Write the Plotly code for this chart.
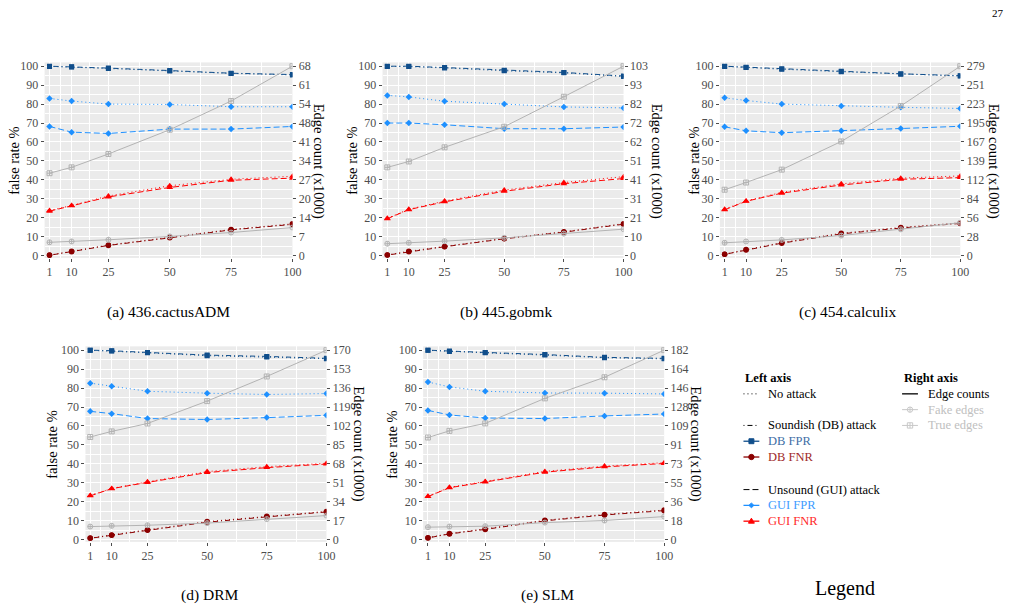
import plotly.graph_objects as go

W, H = 1034, 615

# ---------------- data ----------------
x_levels = [1, 10, 25, 50, 75, 100]
captions = ["(a) 436.cactusADM", "(b) 445.gobmk", "(c) 454.calculix", "(d) DRM", "(e) SLM"]
left_ticks = [0, 10, 20, 30, 40, 50, 60, 70, 80, 90, 100]

# left axis: false rate %  (one row per panel a..e)
db_fpr_attack = [
    [100.0, 99.7, 99.0, 97.7, 96.3, 95.6],
    [100.0, 100.0, 99.3, 97.9, 96.7, 94.8],
    [100.0, 99.5, 98.6, 97.4, 96.0, 95.0],
    [100.0, 99.7, 98.8, 97.4, 96.7, 95.7],
    [100.0, 99.5, 98.8, 97.7, 96.2, 95.7],
]
db_fpr_no_attack = [
    [99.9, 99.6, 98.8, 97.5, 96.2, 95.4],
    [99.9, 99.8, 99.1, 97.6, 96.5, 94.6],
    [99.9, 99.3, 98.4, 97.1, 95.8, 94.8],
    [99.9, 99.5, 98.6, 97.1, 96.4, 95.5],
    [99.9, 99.3, 98.6, 97.4, 96.0, 95.4],
]
gui_fpr_no_attack = [
    [83.0, 81.6, 80.0, 79.8, 78.6, 78.6],
    [84.6, 83.8, 81.5, 80.1, 78.5, 78.0],
    [83.3, 81.9, 80.0, 79.0, 78.3, 77.7],
    [82.6, 80.9, 78.3, 77.3, 76.6, 77.1],
    [83.2, 80.6, 78.3, 77.4, 77.3, 76.9],
]
gui_fpr_attack = [
    [68.2, 65.2, 64.5, 66.8, 66.8, 68.2],
    [70.0, 70.0, 69.1, 67.0, 67.0, 67.9],
    [68.0, 65.9, 64.9, 65.9, 67.1, 68.3],
    [67.7, 66.5, 63.9, 63.4, 64.4, 65.6],
    [68.2, 65.8, 64.2, 63.9, 65.3, 66.3],
]
gui_fnr_attack = [
    [23.5, 26.3, 31.0, 36.0, 39.8, 40.9],
    [19.5, 24.3, 28.4, 34.0, 38.0, 40.7],
    [24.2, 28.7, 33.0, 37.3, 40.3, 41.2],
    [23.1, 26.9, 30.2, 35.4, 38.0, 39.9],
    [22.7, 27.4, 30.4, 35.6, 38.4, 40.2],
]
gui_fnr_no_attack = [
    [23.8, 26.5, 31.5, 36.9, 40.3, 41.9],
    [19.7, 24.5, 28.8, 34.6, 38.6, 41.7],
    [24.5, 28.9, 33.4, 37.9, 40.9, 42.1],
    [23.3, 27.0, 30.5, 35.9, 38.5, 40.3],
    [22.9, 27.6, 30.7, 36.0, 38.8, 40.6],
]
db_fnr_attack = [
    [0.2, 2.1, 5.4, 9.4, 13.6, 16.5],
    [0.3, 2.1, 4.7, 8.9, 12.4, 16.6],
    [0.7, 3.0, 6.6, 11.5, 14.6, 17.0],
    [0.7, 2.3, 5.0, 9.2, 12.0, 14.6],
    [0.9, 3.0, 5.4, 9.9, 13.0, 15.3],
]
db_fnr_no_attack = [
    [0.3, 2.3, 5.6, 9.7, 13.8, 16.8],
    [0.4, 2.3, 4.9, 9.1, 12.6, 16.9],
    [0.8, 3.2, 6.9, 11.8, 14.9, 17.3],
    [0.8, 2.5, 5.2, 9.5, 12.3, 14.9],
    [1.0, 3.2, 5.7, 10.2, 13.3, 15.6],
]

# right axis: edge counts (x1000)
fake_edges = [
    [4.8, 5.1, 5.7, 6.9, 8.3, 10.1],
    [6.5, 7.0, 7.9, 9.7, 12.0, 14.4],
    [19.0, 20.9, 23.2, 29.6, 38.8, 48.5],
    [11.7, 12.4, 12.9, 14.8, 18.4, 21.6],
    [12.0, 12.6, 12.9, 16.4, 18.4, 22.2],
]
true_edges = [
    [29.6, 31.7, 36.5, 45.2, 55.5, 68.0],
    [48.0, 51.2, 58.9, 70.1, 86.4, 103.0],
    [97.1, 107.7, 126.7, 168.2, 220.4, 279.0],
    [92.1, 97.1, 104.2, 124.3, 146.4, 170.0],
    [98.3, 104.7, 111.9, 136.0, 156.3, 182.4],
]
right_tick_labels = [
    ["0", "7", "14", "20", "27", "34", "41", "48", "54", "61", "68"],
    ["0", "10", "21", "31", "41", "51", "62", "72", "82", "93", "103"],
    ["0", "28", "56", "84", "112", "139", "167", "195", "223", "251", "279"],
    ["0", "17", "34", "51", "68", "85", "102", "119", "136", "153", "170"],
    ["0", "18", "36", "55", "73", "91", "109", "128", "146", "164", "182"],
]

# ---------------- styling ----------------
FONT = "Liberation Serif"
TICK_C = "#4d4d4d"
GRAY = "#b3b3b3"
C_DB_FPR = "#104E8B"
C_DB_FNR = "#8B0000"
C_GUI_FPR = "#1E90FF"
C_GUI_FNR = "#FF0000"
DOT = "1px,3px"
DASH = "6px,3px"
DASHDOT = "1px,3px,5px,3px"

# panel pixel boxes: left, right, top, bottom
panel_px = [
    (45.0, 295.0, 60.2, 258.3),
    (385.9, 629.0, 60.2, 258.3),
    (726.2, 968.7, 60.2, 258.3),
    (86.2, 329.3, 347.9, 546.0),
    (426.9, 670.0, 347.9, 546.0),
]
left_title_pos = [(14, 160), (355, 160), (700, 160), (53, 448), (396, 448)]
right_title_pos = [(321, 160), (662, 160), (1002, 160), (362, 447), (702, 447)]
caption_pos = [(170, 313), (510, 313), (855, 313), (211, 600), (552, 600)]


def fx(p):
    return p / W


def fy(p):
    return 1 - p / H


fig = go.Figure()
layout = {}
annotations = []
shapes = []

for i in range(5):
    xid = "x" if i == 0 else f"x{i+1}"
    yl_n = 2 * i + 1
    yr_n = 2 * i + 2
    ylid = "y" if yl_n == 1 else f"y{yl_n}"
    yrid = f"y{yr_n}"
    l, r, t, b = panel_px[i]
    rmax = true_edges[i][-1]

    layout["xaxis" if i == 0 else f"xaxis{i+1}"] = dict(
        domain=[fx(l), fx(r)], range=[-1, 100], anchor=ylid,
        tickvals=x_levels, ticktext=[str(v) for v in x_levels],
        ticks="outside", ticklen=3, tickcolor=TICK_C, tickwidth=1,
        tickfont=dict(family=FONT, size=12, color=TICK_C),
        showgrid=True, gridcolor="white", gridwidth=1.1,
        minor=dict(tickvals=[5.5, 17.5, 37.5, 62.5, 87.5], showgrid=True,
                   gridcolor="white", gridwidth=0.5, ticks=""),
        zeroline=False, showline=False, fixedrange=True,
    )
    layout["yaxis" if yl_n == 1 else f"yaxis{yl_n}"] = dict(
        domain=[fy(b), fy(t)], range=[-1.2, 102], anchor=xid,
        tickvals=left_ticks, ticks="outside", ticklen=3, tickcolor=TICK_C,
        tickfont=dict(family=FONT, size=12, color=TICK_C),
        showgrid=True, gridcolor="white", gridwidth=1.1,
        minor=dict(tickvals=[5, 15, 25, 35, 45, 55, 65, 75, 85, 95], showgrid=True,
                   gridcolor="white", gridwidth=0.5, ticks=""),
        zeroline=False, showline=False,
    )
    layout[f"yaxis{yr_n}"] = dict(
        overlaying=ylid, side="right", anchor=xid,
        range=[-1.2 * rmax / 100, 102 * rmax / 100],
        tickvals=[rmax * k / 10 for k in range(11)], ticktext=right_tick_labels[i],
        ticks="outside", ticklen=3, tickcolor=TICK_C,
        tickfont=dict(family=FONT, size=12, color=TICK_C),
        showgrid=False, zeroline=False, showline=False,
    )

    # edge counts (right axis)
    fig.add_trace(go.Scatter(x=x_levels, y=fake_edges[i], xaxis=xid, yaxis=yrid, mode="lines+markers",
                             line=dict(color=GRAY, width=1),
                             marker=dict(symbol="circle-cross-open", size=5, color=GRAY, line=dict(width=1)),
                             showlegend=False))
    fig.add_trace(go.Scatter(x=x_levels, y=true_edges[i], xaxis=xid, yaxis=yrid, mode="lines+markers",
                             line=dict(color=GRAY, width=1),
                             marker=dict(symbol="square-cross-open", size=5, color=GRAY, line=dict(width=1)),
                             showlegend=False))

    series = [
        (db_fpr_no_attack[i], C_DB_FPR, DOT, "square", 5),
        (db_fpr_attack[i], C_DB_FPR, DASHDOT, "square", 5),
        (db_fnr_no_attack[i], C_DB_FNR, DOT, "circle", 5.5),
        (db_fnr_attack[i], C_DB_FNR, DASHDOT, "circle", 5.5),
        (gui_fpr_no_attack[i], C_GUI_FPR, DOT, "diamond", 5),
        (gui_fpr_attack[i], C_GUI_FPR, DASH, "diamond", 5),
        (gui_fnr_no_attack[i], C_GUI_FNR, DOT, "triangle-up", 6),
        (gui_fnr_attack[i], C_GUI_FNR, DASH, "triangle-up", 6),
    ]
    for vals, col, dash, sym, sz in series:
        fig.add_trace(go.Scatter(x=x_levels, y=vals, xaxis=xid, yaxis=ylid, mode="lines+markers",
                                 line=dict(color=col, width=1, dash=dash),
                                 marker=dict(symbol=sym, size=sz, color=col),
                                 showlegend=False))

    lx, ly = left_title_pos[i]
    annotations.append(dict(text="false rate %", x=fx(lx), y=fy(ly), xref="paper", yref="paper",
                            showarrow=False, textangle=-90, xanchor="center", yanchor="middle",
                            font=dict(family=FONT, size=14.5, color="black")))
    rx, ry = right_title_pos[i]
    annotations.append(dict(text="Edge count (x1000)", x=fx(rx), y=fy(ry), xref="paper", yref="paper",
                            showarrow=False, textangle=90, xanchor="center", yanchor="middle",
                            font=dict(family=FONT, size=14.5, color="black")))
    cx, cy = caption_pos[i]
    annotations.append(dict(text=captions[i], x=fx(cx), y=fy(cy), xref="paper", yref="paper",
                            showarrow=False, xanchor="center", yanchor="middle",
                            font=dict(family=FONT, size=15.5, color="black")))

# page number and legend title
annotations.append(dict(text="27", x=fx(1007), y=fy(10), xref="paper", yref="paper", showarrow=False,
                        xanchor="center", yanchor="middle", font=dict(family=FONT, size=11, color="black")))
annotations.append(dict(text="Legend", x=fx(852), y=fy(593), xref="paper", yref="paper", showarrow=False,
                        xanchor="center", yanchor="middle", font=dict(family=FONT, size=20, color="black")))

# ---------------- custom legend ----------------
def leg_text(txt, x, y, color="black", bold=False):
    annotations.append(dict(text=f"<b>{txt}</b>" if bold else txt, x=fx(x), y=fy(y),
                            xref="paper", yref="paper", showarrow=False, xanchor="left", yanchor="middle",
                            font=dict(family=FONT, size=12.5, color=color)))


def leg_line(x0, x1, y, color, dash="solid", width=1):
    shapes.append(dict(type="line", xref="paper", yref="paper", x0=fx(x0), x1=fx(x1), y0=fy(y), y1=fy(y),
                       line=dict(color=color, width=width, dash=dash)))


def leg_rect(cx, cy, s, color, fill=True):
    shapes.append(dict(type="rect", xref="paper", yref="paper", x0=fx(cx - s), x1=fx(cx + s),
                       y0=fy(cy + s), y1=fy(cy - s), line=dict(color=color, width=1),
                       fillcolor=color if fill else "rgba(0,0,0,0)"))


def leg_circle(cx, cy, s, color, fill=True):
    shapes.append(dict(type="circle", xref="paper", yref="paper", x0=fx(cx - s), x1=fx(cx + s),
                       y0=fy(cy + s), y1=fy(cy - s), line=dict(color=color, width=1),
                       fillcolor=color if fill else "rgba(0,0,0,0)"))


def leg_path(points, color):
    d = "M " + " L ".join(f"{fx(px)},{fy(py)}" for px, py in points) + " Z"
    shapes.append(dict(type="path", xref="paper", yref="paper", path=d,
                       line=dict(color=color, width=1), fillcolor=color))


lx0, lx1, ltx = 750, 766, 773
leg_text("Left axis", 750, 380, bold=True)
leg_line(lx0, lx1, 396, "black", DOT)
leg_text("No attack", ltx, 396)
leg_line(lx0, lx1, 428, "black", DASHDOT)
leg_text("Soundish (DB) attack", ltx, 428)
leg_line(lx0, lx1, 444, C_DB_FPR, width=1.3)
leg_rect(758, 444, 2.5, C_DB_FPR)
leg_text("DB FPR", ltx, 444, color="#3f6fa6")
leg_line(lx0, lx1, 460, C_DB_FNR, width=1.3)
leg_circle(758, 460, 2.7, C_DB_FNR)
leg_text("DB FNR", ltx, 460, color="#a02a2a")
leg_line(lx0, lx1, 493, "black", DASH)
leg_text("Unsound (GUI) attack", ltx, 493)
leg_line(lx0, lx1, 509, C_GUI_FPR, width=1.3)
leg_path([(758, 506.5), (760.5, 509), (758, 511.5), (755.5, 509)], C_GUI_FPR)
leg_text("GUI FPR", ltx, 509, color="#3d9cff")
leg_line(lx0, lx1, 525, C_GUI_FNR, width=1.3)
leg_path([(758, 522), (761, 527), (755, 527)], C_GUI_FNR)
leg_text("GUI FNR", ltx, 525, color="#ff2a2a")

rx0, rx1, rtx = 910, 926, 934
leg_text("Right axis", 910, 380, bold=True)
leg_line(rx0, rx1, 396, "black", width=1.3)
leg_text("Edge counts", rtx, 396)
leg_line(rx0, rx1, 412, "#c8c8c8")
leg_circle(918, 412, 2.7, "#c8c8c8", fill=False)
shapes.append(dict(type="line", xref="paper", yref="paper", x0=fx(918), x1=fx(918), y0=fy(409.3), y1=fy(414.7),
                   line=dict(color="#c8c8c8", width=1)))
leg_text("Fake edges", rtx, 412, color="#c0c0c0")
leg_line(rx0, rx1, 428, "#c8c8c8")
leg_rect(918, 428, 2.7, "#c8c8c8", fill=False)
shapes.append(dict(type="line", xref="paper", yref="paper", x0=fx(918), x1=fx(918), y0=fy(425.3), y1=fy(430.7),
                   line=dict(color="#c8c8c8", width=1)))
leg_text("True edges", rtx, 428, color="#c0c0c0")

fig.update_layout(
    width=W, height=H, margin=dict(l=0, r=0, t=0, b=0),
    paper_bgcolor="white", plot_bgcolor="#EBEBEB",
    showlegend=False, annotations=annotations, shapes=shapes,
    font=dict(family=FONT),
    **layout,
)

fig.write_html("out.html")
